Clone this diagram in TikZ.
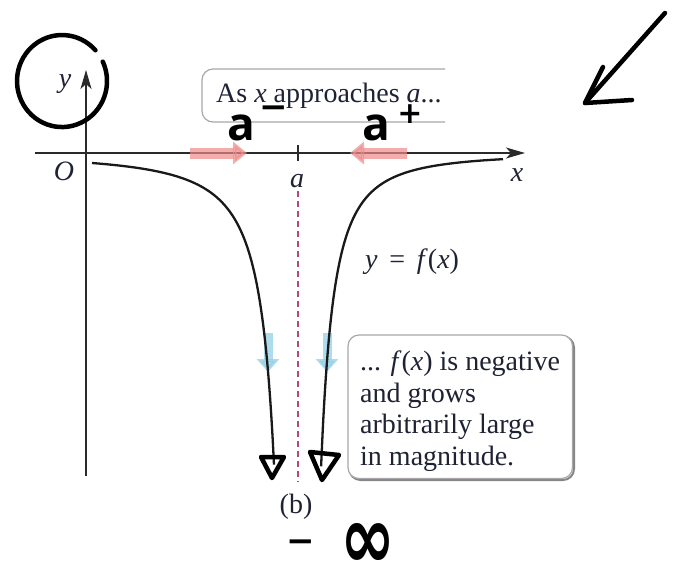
\documentclass[tikz,border=0pt]{standalone}
\usepackage{fontspec}
\setmainfont{Liberation Serif}
\newfontfamily\handfont{Open Sans}
\newfontfamily\symfont{DejaVu Sans}
\usetikzlibrary{arrows.meta}
\definecolor{ink}{HTML}{1E2233}
\definecolor{axisc}{HTML}{2A2A2A}
\definecolor{dashc}{HTML}{B5487F}
\definecolor{redarr}{HTML}{EE8A8A}
\definecolor{bluearr}{HTML}{8CCDE6}
\definecolor{boxc}{HTML}{A8A8A8}
\begin{document}
\begin{tikzpicture}[x=1pt,y=-1pt,
  lbl/.style={font=\fontsize{28}{31}\selectfont, text=ink, inner sep=0pt},
  axisline/.style={draw=axisc, line width=1.1pt, -{Stealth[length=19pt,width=11pt,inset=5pt]}},
  curveline/.style={draw=black!90, line width=2.3pt},
  asym/.style={draw=dashc, line width=1.4pt, dash pattern=on 6pt off 4pt},
  redarrow/.style={draw=redarr, opacity=0.7, line width=11pt, -{Triangle[length=14pt,width=22pt]}},
  bluearrow/.style={draw=bluearr, opacity=0.7, line width=9pt, -{Triangle[length=13pt,width=22pt]}},
  hand/.style={draw=black, line width=4.5pt, line cap=round, line join=round},
  handtxt/.style={inner sep=0pt, text=black},
  boxline/.style={draw=boxc, line width=1.2pt, rounded corners=11pt}
]
\useasboundingbox (0,0) rectangle (675,574);

% axes
\coordinate (yb) at (86,476);
\coordinate (yt) at (86,70);
\coordinate (xl) at (35,153);
\coordinate (xr) at (525,153);
\draw[axisline] (yb) -- (yt);
\draw[axisline] (xl) -- (xr);
\node[lbl, anchor=base] (ylab) at (65,87) {\textit{y}};
\node[lbl, anchor=base] (olab) at (64,180) {\textit{O}};
\node[lbl, anchor=base] (xlab) at (517,181) {\textit{x}};
\node[lbl, anchor=base] (alab) at (297,187) {\textit{a}};
\coordinate (tkt) at (298,145);
\coordinate (tkb) at (298,161);
\draw[draw=axisc, line width=1.1pt] (tkt) -- (tkb);

% asymptote
\coordinate (dt) at (298,191);
\coordinate (db) at (298,482);
\draw[asym] (dt) -- (db);

% motion arrows
\coordinate (rl1) at (190,153);
\coordinate (rl2) at (247,153);
\coordinate (rr1) at (407,153);
\coordinate (rr2) at (350,153);
\draw[redarrow] (rl1) -- (rl2);
\draw[redarrow] (rr1) -- (rr2);
\coordinate (bl1) at (268,333);
\coordinate (bl2) at (268,372);
\coordinate (br1) at (327,333);
\coordinate (br2) at (327,372);
\draw[bluearrow] (bl1) -- (bl2);
\draw[bluearrow] (br1) -- (br2);

% curve
\draw[curveline] plot[domain=20.6:2.4, samples=120, smooth] ({298-10*\x},{153+1265/(\x^1.6)});
\draw[curveline] plot[domain=20.5:2.31, samples=120, smooth] ({298+10*\x},{153+1415/(\x^1.8)});
\node[lbl, anchor=base west] (flab) at (365,268) {\textit{y}\hspace{0.42em}=\hspace{0.42em}\textit{f}(\textit{x})};

% top box
\draw[boxline] (445,69) -- (202,69) -- (202,122) -- (445,122);
\node[lbl, anchor=base west] (asx) at (216,102) {As \textit{x} approaches \textit{a}...};

% bottom box
\draw[draw=boxc!80!black, line width=2pt, rounded corners=11pt] (349.5,336.5) rectangle (574,480);
\draw[boxline, fill=white] (348,335) rectangle (572.5,478.5);
\node[lbl, anchor=base west] (t1) at (360,370) {... \textit{f}(\textit{x}) is negative};
\node[lbl, anchor=base west] (t2) at (360,402) {and grows};
\node[lbl, anchor=base west] (t3) at (360,433) {arbitrarily large};
\node[lbl, anchor=base west] (t4) at (360,465) {in magnitude.};
\node[lbl, anchor=base] (blab) at (296,513) {(b)};

% handwritten annotations
\draw[hand] (102.8,61.6) arc[start angle=-25, end angle=318, x radius=45, y radius=46];
\node[handtxt, font=\handfont\bfseries\fontsize{46}{46}\selectfont] (am) at (241,128) {a};
\node[handtxt, font=\symfont\bfseries\fontsize{34}{34}\selectfont] (mn) at (274,112) {−};
\node[handtxt, font=\handfont\bfseries\fontsize{46}{46}\selectfont] (ap) at (376,128) {a};
\node[handtxt, font=\symfont\bfseries\fontsize{30}{30}\selectfont] (pl) at (410,114) {+};
\node[handtxt, font=\symfont\bfseries\fontsize{34}{34}\selectfont] (mi) at (301,546) {−};
\node[handtxt, font=\symfont\bfseries\fontsize{66}{66}\selectfont, yscale=1.35] (inf) at (368,546) {∞};
\draw[hand] (261,457) -- (272,478) -- (284,457) -- cycle;
\draw[hand] (310,452) -- (322,480) -- (339,455) -- cycle;
\coordinate (ha) at (665,13);
\coordinate (hb) at (585,103);
\draw[hand] (ha) -- (hb);
\draw[hand] (603,67) -- (hb) -- (632,100);
\end{tikzpicture}
\end{document}
